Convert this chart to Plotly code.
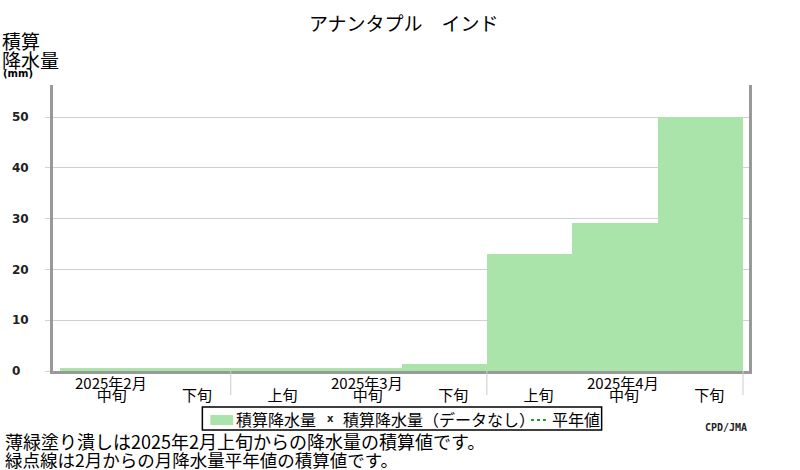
import plotly.graph_objects as go

# dekads shown on the x axis (index 0..7)
dekads = ['中旬', '下旬', '上旬', '中旬', '下旬', '上旬', '中旬', '下旬']
months = ['2025年2月', '2025年3月', '2025年4月']
month_pos = [0, 3, 6]          # dekad index the month label sits over
month_bounds = [1.5, 4.5, 7.5]
# cumulative precipitation (mm) per dekad
precip = [0.5, 0.5, 0.5, 0.5, 1.3, 23.0, 29.1, 50.0]
y_ticks = [0, 10, 20, 30, 40, 50]
y_ticktext = ['0\u2007', '10', '20', '30', '40', '50']
legend_labels = ['積算降水量', '積算降水量（データなし）', '平年値']

GREEN = '#aae4aa'
NORMAL = '#229922'
L, R, T, B = 50, 749, 85, 371   # plot area in px


def px(xp):
    return (xp - L) / (R - L)


def py(yp):
    return (B - yp) / (B - T)


x = list(range(len(precip)))

fig = go.Figure()
fig.add_trace(go.Bar(x=x, y=precip, width=1.0, marker=dict(color=GREEN, line_width=0),
                     name=legend_labels[0], showlegend=False))

font = 'Noto Sans CJK JP'


def text(xp, yp, s, size, anchor='left', **f):
    return dict(x=px(xp), y=py(yp), xref='paper', yref='paper', text=s, showarrow=False,
                font=dict(size=size, color=f.pop('color', 'black'), **f),
                xanchor=anchor, yanchor='middle', borderpad=0)


ann = []
for name, pos in zip(months, month_pos):
    ann.append(dict(x=pos + 0.1, y=py(382), xref='x', yref='paper', text=name, showarrow=False,
                    font=dict(size=15, color='black'), xanchor='center', yanchor='middle'))
ann += [
    text(403, 22, 'アナンタプル　インド', 19, 'center'),
    text(-2, 40, '積算', 19),
    text(-2, 59, '降水量', 19),
    text(-1, 74, '<b>(mm)</b>', 10, family='DejaVu Sans'),
    text(748, 427, '<b>CPD/JMA</b>', 10, 'right', family='DejaVu Sans Mono', color='#222222'),
    text(1, 441, '薄緑塗り潰しは2025年2月上旬からの降水量の積算値です。', 18),
    text(1, 459, '緑点線は2月からの月降水量平年値の積算値です。', 17.5),
    # legend
    text(233, 419, legend_labels[0], 16),
    text(329, 418, '<b>x</b>', 10, 'center', family='DejaVu Sans', color='#222222'),
    text(340, 419, legend_labels[1], 16),
    text(550, 419, legend_labels[2], 16),
]

shapes = [dict(type='line', xref='x', yref='paper', x0=b, x1=b, y0=0, y1=py(395),
               line=dict(color='#cccccc', width=1)) for b in month_bounds]
shapes += [
    dict(type='rect', xref='paper', yref='paper', x0=px(200), x1=px(601), y0=py(407), y1=py(430),
         line=dict(color='black', width=1.5), fillcolor='white', layer='above'),
    dict(type='rect', xref='paper', yref='paper', x0=px(208), x1=px(231), y0=py(415), y1=py(425),
         line=dict(width=0), fillcolor=GREEN, layer='above'),
    dict(type='line', xref='paper', yref='paper', x0=px(530), x1=px(547), y0=py(420), y1=py(420),
         line=dict(color=NORMAL, width=2, dash='dot'), layer='above'),
]

fig.update_layout(
    width=800, height=470,
    margin=dict(l=L, r=800 - R, t=T, b=470 - B),
    paper_bgcolor='white', plot_bgcolor='white',
    font=dict(family=font, color='black'),
    showlegend=False,
    bargap=0,
    annotations=ann,
    shapes=shapes,
    xaxis=dict(range=[-0.582, 7.57], tickvals=x, ticktext=dekads, showgrid=False,
               showline=True, linecolor='#999999', linewidth=3, zeroline=False,
               ticks='', tickfont=dict(size=15), ticklabelstandoff=9, ticklabelshift=9),
    yaxis=dict(range=[0, 56.3], tickvals=y_ticks, ticktext=y_ticktext, showgrid=True,
               gridcolor='#d0d0d0', gridwidth=1,
               showline=True, mirror=True, linecolor='#999999', linewidth=3, zeroline=False,
               ticks='outside', ticklen=5, tickcolor='#d0d0d0', ticklabelstandoff=14,
               tickfont=dict(size=12, family='DejaVu Sans', color='#222222', weight='bold')),
)

fig.write_html('out.html', config={'displayModeBar': False},
               post_script="document.body.style.margin='0';")
